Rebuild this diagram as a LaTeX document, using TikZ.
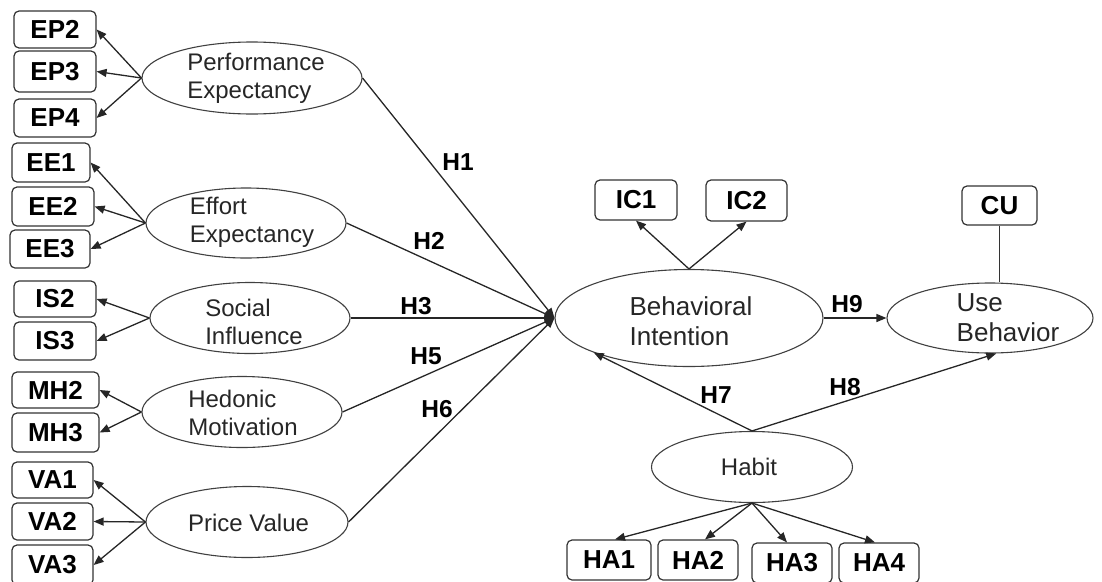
\documentclass[tikz,border=0pt]{standalone}
\usepackage{fontspec}
\setmainfont{Liberation Sans}
\usetikzlibrary{arrows.meta,shapes.geometric}
\begin{document}
\begin{tikzpicture}[x=1pt,y=-1pt,
 ind/.style={draw=black!80, line width=1.2pt, rounded corners=5pt, inner sep=0pt,
   font=\fontsize{26}{28}\selectfont\bfseries},
 lv/.style={ellipse, draw=black!75, line width=1.1pt, inner sep=0pt},
 lvt/.style={align=left, font=\fontsize{24}{28}\selectfont, text=black!85, inner sep=0pt},
 lvtb/.style={align=left, font=\fontsize{26}{30}\selectfont, text=black!85, inner sep=0pt},
 arr/.style={-{Triangle[length=10pt,width=8pt]}, line width=1.3pt, draw=black!85},
 hyp/.style={font=\fontsize{24.5}{26}\selectfont\bfseries, inner sep=0pt}]
\useasboundingbox (0,0) rectangle (1102,581);

% indicator boxes (left)
\node[ind, minimum width=82pt, minimum height=37pt] (ep2) at (55,29.5) {EP2};
\node[ind, minimum width=82pt, minimum height=41pt] (ep3) at (55,71.5) {EP3};
\node[ind, minimum width=82pt, minimum height=38pt] (ep4) at (55,118) {EP4};
\node[ind, minimum width=78pt, minimum height=39pt] (ee1) at (51,162.5) {EE1};
\node[ind, minimum width=82pt, minimum height=39pt] (ee2) at (53,206.5) {EE2};
\node[ind, minimum width=80pt, minimum height=38pt] (ee3) at (50,249) {EE3};
\node[ind, minimum width=82pt, minimum height=36pt] (is2) at (55,299) {IS2};
\node[ind, minimum width=82pt, minimum height=38pt] (is3) at (55,341) {IS3};
\node[ind, minimum width=87pt, minimum height=36pt] (mh2) at (55.5,390) {MH2};
\node[ind, minimum width=87pt, minimum height=39pt] (mh3) at (55.5,432.5) {MH3};
\node[ind, minimum width=81pt, minimum height=36pt] (va1) at (52.5,480) {VA1};
\node[ind, minimum width=81pt, minimum height=37pt] (va2) at (52.5,521.5) {VA2};
\node[ind, minimum width=81pt, minimum height=40pt] (va3) at (52.5,565) {VA3};

% indicator boxes (right)
\node[ind, minimum width=82pt, minimum height=40pt] (ic1) at (636,200) {IC1};
\node[ind, minimum width=81pt, minimum height=41pt] (ic2) at (746.5,200.5) {IC2};
\node[ind, minimum width=75pt, minimum height=39pt] (cu) at (999.5,205.5) {CU};
\node[ind, minimum width=84pt, minimum height=40pt] (ha1) at (609,560) {HA1};
\node[ind, minimum width=80pt, minimum height=40pt] (ha2) at (698,560) {HA2};
\node[ind, minimum width=80pt, minimum height=40pt] (ha3) at (792,563) {HA3};
\node[ind, minimum width=80pt, minimum height=40pt] (ha4) at (879,563) {HA4};

% latent variables
\node[lv, minimum width=220pt, minimum height=72pt] (pe) at (252,78) {};
\node[lv, minimum width=200pt, minimum height=70pt] (ee) at (246,223) {};
\node[lv, minimum width=200pt, minimum height=71pt] (si) at (250,318) {};
\node[lv, minimum width=200pt, minimum height=71pt] (hm) at (242,412) {};
\node[lv, minimum width=202pt, minimum height=71pt] (pv) at (247,522) {};
\node[lv, minimum width=268pt, minimum height=97pt] (bi) at (689,318) {};
\node[lv, minimum width=206pt, minimum height=70pt] (ub) at (990,318) {};
\node[lv, minimum width=201pt, minimum height=71pt] (hb) at (752,467) {};

\node[lvt] (pet) at (256,78) {Performance\\Expectancy};
\node[lvt] (eet) at (252,222) {Effort\\Expectancy};
\node[lvt] (sit) at (254,322) {Social\\Influence};
\node[lvt] (hmt) at (243,413) {Hedonic\\Motivation};
\node[lvt] (pvt) at (248.5,523) {Price Value};
\node[lvtb] (bit) at (691,321) {Behavioral\\Intention};
\node[lvtb] (ubt) at (1008,318) {Use\\Behavior};
\node[lvt] (hbt) at (749,467) {Habit};

% measurement arrows
\draw[arr] (pe.west) -- (ep2.east);
\draw[arr] (pe.west) -- (ep3.east);
\draw[arr] (pe.west) -- (ep4.east);
\draw[arr] (ee.west) -- (ee1.east);
\draw[arr] (ee.west) -- (ee2.east);
\draw[arr] (ee.west) -- (ee3.east);
\draw[arr] (si.west) -- (is2.east);
\draw[arr] (si.west) -- (is3.east);
\draw[arr] (hm.west) -- (mh2.east);
\draw[arr] (hm.west) -- (mh3.east);
\draw[arr] (pv.west) -- (va1.east);
\draw[arr] (pv.west) -- (va2.east);
\draw[arr] (pv.west) -- (va3.east);
\draw[arr] (bi.north) -- (ic1.south);
\draw[arr] (bi.north) -- (ic2.south);
\draw[line width=1.2pt, draw=black!80] (cu.south) -- (cu.south |- ub.north);
\draw[arr] (hb.south) -- ([xshift=6pt]ha1.north);
\draw[arr] (hb.south) -- ([xshift=7pt]ha2.north);
\draw[arr] (hb.south) -- ([xshift=-5pt]ha3.north);
\draw[arr] (hb.south) -- ([xshift=-4pt]ha4.north);

% structural paths
\draw[arr] (pe.east) -- (bi.west);
\draw[arr] (ee.east) -- (bi.west);
\draw[arr] (si.east) -- (bi.west);
\draw[arr] (hm.east) -- (bi.west);
\draw[arr] (pv.east) -- (bi.west);
\draw[arr] (bi.east) -- (ub.west);
\draw[arr] (hb.north) -- (bi.200.8);
\draw[arr] (hb.north) -- (ub.280);

% hypothesis labels
\node[hyp] (h1) at (458,162) {H1};
\node[hyp] (h2) at (429,241) {H2};
\node[hyp] (h3) at (416,306) {H3};
\node[hyp] (h5) at (426,356) {H5};
\node[hyp] (h6) at (437,409) {H6};
\node[hyp] (h7) at (716,395) {H7};
\node[hyp] (h8) at (845,387) {H8};
\node[hyp] (h9) at (847,304) {H9};
\end{tikzpicture}
\end{document}
